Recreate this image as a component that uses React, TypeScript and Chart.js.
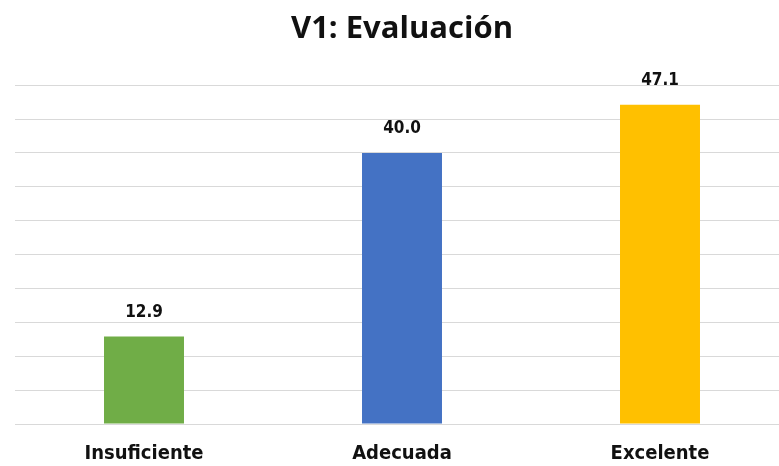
import React, { useEffect, useRef } from "react";
import { Chart, registerables } from "chart.js";

Chart.register(...registerables);

const categories = ["Insuficiente", "Adecuada", "Excelente"];
const values = [12.9, 40.0, 47.1];
const barColors = ["#70AD47", "#4472C4", "#FFC000"];
const titleText = "V1: Evaluación";
const yMin = 0;
const yMax = 50;
const yStep = 5;

const LABEL_FONT = "'Liberation Sans Narrow', 'DejaVu Sans Condensed', 'Roboto', sans-serif";

const valueLabelPlugin = {
  id: "valueLabels",
  afterDatasetsDraw(chart: any) {
    const ctx = chart.ctx;
    ctx.save();
    ctx.font = `bold 17px ${LABEL_FONT}`;
    ctx.fillStyle = "#111111";
    ctx.textAlign = "center";
    ctx.textBaseline = "middle";
    chart.data.datasets.forEach((ds: any, di: number) => {
      const meta = chart.getDatasetMeta(di);
      meta.data.forEach((el: any, i: number) => {
        const v = ds.data[i];
        ctx.fillText(v.toFixed(1), el.x, el.y - 24);
      });
    });
    ctx.restore();
  },
};

export default function App() {
  const ref = useRef<HTMLCanvasElement | null>(null);

  useEffect(() => {
    document.body.style.margin = "0";
    document.body.style.overflow = "hidden";
    const canvas = ref.current!;
    const chart = new Chart(canvas, {
      type: "bar",
      data: {
        labels: categories,
        datasets: [
          {
            data: values,
            backgroundColor: barColors,
            borderWidth: 0,
            categoryPercentage: 1,
            barPercentage: 0.31,
          },
        ],
      },
      options: {
        responsive: false,
        animation: false,
        layout: { padding: { left: 15, right: 15, top: 0, bottom: 0 } },
        plugins: {
          legend: { display: false },
          tooltip: { enabled: false },
          title: {
            display: true,
            text: titleText,
            color: "#111111",
            font: { family: "'Open Sans', sans-serif", size: 31, weight: "bold" },
            padding: { top: 11, bottom: 37 },
          },
        },
        scales: {
          x: {
            grid: { display: false, drawTicks: false },
            border: { display: false },
            ticks: {
              color: "#111111",
              padding: 18,
              font: { family: LABEL_FONT, size: 20, weight: "bold" },
            },
          },
          y: {
            min: yMin,
            max: yMax,
            ticks: { display: false, stepSize: yStep },
            grid: { color: "#d9d9d9", lineWidth: 1, drawTicks: false },
            border: { display: false },
          },
        },
      },
      plugins: [valueLabelPlugin],
    });
    return () => chart.destroy();
  }, []);

  return (
    <div style={{ width: 779, height: 466, overflow: "hidden", background: "#fff" }}>
      <canvas ref={ref} width={804} height={484} style={{ display: "block", width: 804, height: 484 }} />
    </div>
  );
}
